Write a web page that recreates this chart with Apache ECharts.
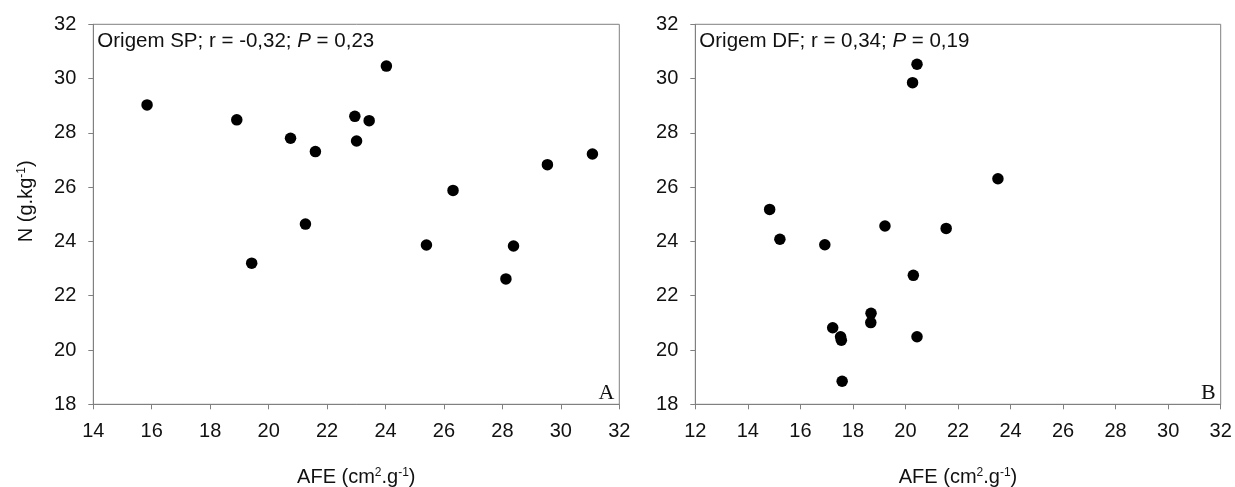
<!DOCTYPE html>
<html>
<head>
<meta charset="utf-8">
<script src="https://cdn.jsdelivr.net/npm/echarts@6/dist/echarts.min.js"></script>
<style>
html,body{margin:0;padding:0;background:#fff;}
#c{width:1235px;height:487px;}
</style>
</head>
<body>
<div id="c"></div>
<script>
// Panel A: Origem SP
const afeSP = [15.84, 18.91, 19.42, 20.75, 21.60, 21.26, 22.95, 23.01, 23.44, 24.03, 25.40, 26.31, 28.12, 28.38, 29.54, 31.08];
const nSP   = [29.03, 28.48, 23.20, 27.80, 27.31, 24.64, 28.61, 27.70, 28.45, 30.46, 23.87, 25.88, 22.62, 23.83, 26.83, 27.22];
// Panel B: Origem DF
const afeDF = [14.83, 15.22, 16.93, 17.23, 17.53, 17.56, 17.59, 18.68, 18.69, 19.22, 20.27, 20.44, 20.30, 20.44, 21.55, 23.52];
const nDF   = [25.18, 24.08, 23.88, 20.82, 20.49, 20.36, 18.85, 21.01, 21.35, 24.57, 29.85, 30.53, 22.75, 20.49, 24.48, 26.31];

const titles = ['Origem SP; r = -0,32; ', 'Origem DF; r = 0,34; '];
const pValues = [' = 0,23', ' = 0,19'];
const panelLetters = ['A', 'B'];
const xRanges = [[14, 32], [12, 32]];
const yRange = [18, 32];

const FONT = 'Liberation Sans, Arial, sans-serif';
const AX = '#808080';
const TXT = '#111111';

const grids = [
  {left: 93.3, top: 24.3, width: 526, height: 380},
  {left: 695.3, top: 24.3, width: 525.4, height: 380}
];

const nameRich = {
  n: {fontFamily: FONT, fontSize: 20, color: TXT},
  s: {fontFamily: FONT, fontSize: 12, color: TXT, padding: [0, 0, 10, 0]}
};

function xAxis(i) {
  return {
    type: 'value', gridIndex: i, min: xRanges[i][0], max: xRanges[i][1], interval: 2,
    name: '{n|AFE (cm}{s|2}{n|.g}{s|-1}{n|)}',
    nameLocation: 'middle', nameGap: 62,
    nameTextStyle: {rich: nameRich},
    axisLine: {show: true, onZero: false, lineStyle: {color: AX, width: 1}},
    axisTick: {show: true, length: 5, lineStyle: {color: AX}},
    axisLabel: {fontFamily: FONT, fontSize: 20, color: TXT, margin: 17},
    splitLine: {show: false}
  };
}
function yAxis(i) {
  const ax = {
    type: 'value', gridIndex: i, min: yRange[0], max: yRange[1], interval: 2,
    axisLine: {show: true, onZero: false, lineStyle: {color: AX, width: 1}},
    axisTick: {show: true, length: 5, lineStyle: {color: AX}},
    axisLabel: {fontFamily: FONT, fontSize: 20, color: TXT, margin: 17},
    splitLine: {show: false}
  };
  if (i === 0) {
    ax.name = '{n|N (g.kg}{s|-1}{n|)}';
    ax.nameLocation = 'middle';
    ax.nameGap = 56;
    ax.nameRotate = 90;
    ax.nameTextStyle = {rich: nameRich, padding: [0, 0, 0, 26]};
  }
  return ax;
}

const option = {
  backgroundColor: '#ffffff',
  animation: false,
  title: [0, 1].map(i => ({
    text: '{a|' + titles[i] + '}{i|P}{a|' + pValues[i] + '}',
    left: grids[i].left + 4, top: 31, padding: 0,
    textStyle: {
      fontWeight: 'normal',
      rich: {
        a: {fontFamily: FONT, fontSize: 20.5, color: TXT, fontWeight: 'normal'},
        i: {fontFamily: FONT, fontSize: 20.5, color: TXT, fontWeight: 'normal', fontStyle: 'italic'}
      }
    }
  })),
  grid: grids.map(g => Object.assign({show: true, borderColor: AX, borderWidth: 1, backgroundColor: 'transparent', containLabel: false, outerBoundsMode: 'none'}, g)),
  xAxis: [xAxis(0), xAxis(1)],
  yAxis: [yAxis(0), yAxis(1)],
  graphic: [0, 1].map(i => ({
    type: 'text',
    right: 1235 - (grids[i].left + grids[i].width) + 5,
    top: 382,
    style: {text: panelLetters[i], font: '22px "Liberation Serif", "Times New Roman", serif', fill: TXT}
  })),
  series: [
    {type: 'scatter', xAxisIndex: 0, yAxisIndex: 0, symbolSize: 11.5,
     itemStyle: {color: '#000', opacity: 1}, data: afeSP.map((v, k) => [v, nSP[k]])},
    {type: 'scatter', xAxisIndex: 1, yAxisIndex: 1, symbolSize: 11.5,
     itemStyle: {color: '#000', opacity: 1}, data: afeDF.map((v, k) => [v, nDF[k]])}
  ]
};

echarts.init(document.getElementById('c'), null, {renderer: 'canvas'}).setOption(option);
</script>
</body>
</html>
